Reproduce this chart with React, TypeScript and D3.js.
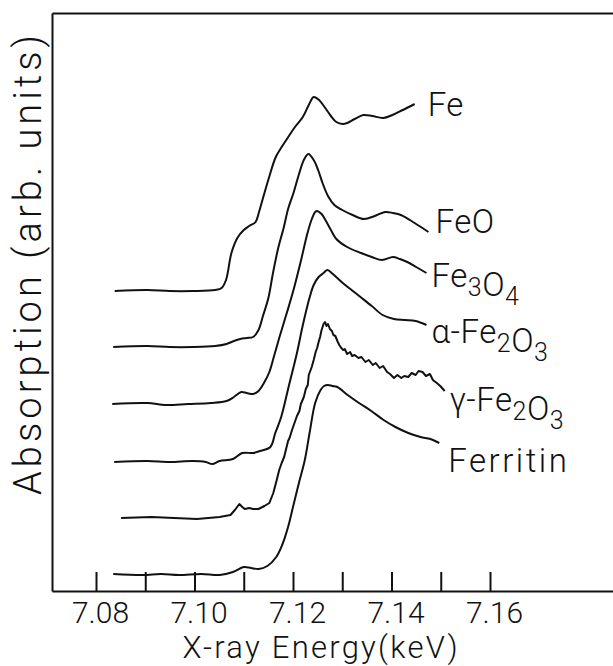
import React, { useEffect, useRef } from "react";
import * as d3 from "d3";

// [energy keV, absorption arb. units]; curves are stacked with offsets
const fe: [number, number][] = [
  [7.0838, 3.0], [7.0904, 3.01], [7.095, 3.0], [7.0996, 3.0], [7.1042, 3.01], [7.1055, 3.03],
  [7.1064, 3.11], [7.1075, 3.38], [7.1087, 3.53], [7.11, 3.61], [7.1111, 3.65], [7.1124, 3.69],
  [7.1131, 3.79], [7.1138, 3.91], [7.1151, 4.13], [7.1165, 4.34], [7.1177, 4.44], [7.1189, 4.53],
  [7.1204, 4.64], [7.122, 4.74], [7.1233, 4.87], [7.1242, 4.94], [7.1253, 4.91], [7.1264, 4.84],
  [7.1277, 4.75], [7.1288, 4.69], [7.1301, 4.67], [7.131, 4.68], [7.1325, 4.72], [7.1343, 4.76],
  [7.1361, 4.75], [7.1383, 4.73], [7.1402, 4.76], [7.1423, 4.81], [7.1447, 4.87],
];

const feO: [number, number][] = [
  [7.0835, 2.44], [7.0904, 2.45], [7.095, 2.44], [7.0996, 2.44], [7.1042, 2.45], [7.1065, 2.47],
  [7.108, 2.5], [7.1093, 2.52], [7.1106, 2.53], [7.1119, 2.54], [7.113, 2.61], [7.1139, 2.75],
  [7.115, 2.93], [7.1159, 3.17], [7.117, 3.43], [7.1181, 3.63], [7.119, 3.82], [7.1201, 3.98],
  [7.1211, 4.15], [7.1222, 4.31], [7.1231, 4.37], [7.1242, 4.31], [7.1251, 4.21], [7.126, 4.08],
  [7.1271, 3.95], [7.1284, 3.86], [7.13, 3.81], [7.1321, 3.76], [7.1344, 3.72], [7.1366, 3.75],
  [7.1387, 3.79], [7.1403, 3.78], [7.1419, 3.76], [7.1447, 3.68], [7.1475, 3.59],
];

const fe3O4: [number, number][] = [
  [7.0833, 1.87], [7.0904, 1.88], [7.0941, 1.86], [7.0987, 1.87], [7.1033, 1.88], [7.1065, 1.9],
  [7.108, 1.94], [7.1095, 1.99], [7.1106, 1.98], [7.1119, 1.97], [7.113, 2.0], [7.1141, 2.08],
  [7.1152, 2.19], [7.1161, 2.34], [7.1172, 2.53], [7.1188, 2.79], [7.1201, 3.01], [7.1215, 3.28],
  [7.123, 3.59], [7.1239, 3.73], [7.1245, 3.79], [7.1249, 3.8], [7.1258, 3.77], [7.1267, 3.7],
  [7.1277, 3.61], [7.1288, 3.52], [7.131, 3.44], [7.1338, 3.38], [7.136, 3.34], [7.1381, 3.31],
  [7.1403, 3.34], [7.1417, 3.32], [7.1432, 3.29], [7.145, 3.24], [7.1471, 3.18],
];

const alphaFe2O3: [number, number][] = [
  [7.0837, 1.29], [7.0904, 1.3], [7.095, 1.29], [7.0996, 1.3], [7.1023, 1.29], [7.1036, 1.27],
  [7.1051, 1.3], [7.1078, 1.32], [7.1097, 1.38], [7.1119, 1.38], [7.1133, 1.4], [7.1154, 1.44],
  [7.1164, 1.58], [7.1176, 1.74], [7.1192, 2.06], [7.1208, 2.38], [7.122, 2.66], [7.1234, 2.94],
  [7.1242, 3.06], [7.1252, 3.14], [7.1262, 3.18], [7.127, 3.21], [7.1281, 3.17], [7.1301, 3.08],
  [7.1319, 3.01], [7.1337, 2.94], [7.136, 2.85], [7.1382, 2.76], [7.1405, 2.72], [7.1427, 2.71],
  [7.1449, 2.7], [7.1471, 2.66],
];

const gammaFe2O3: [number, number][] = [
  [7.0851, 0.73], [7.0913, 0.74], [7.0959, 0.73], [7.1005, 0.72], [7.1051, 0.74], [7.1073, 0.76],
  [7.1082, 0.81], [7.1091, 0.87], [7.1097, 0.84], [7.1102, 0.82], [7.1111, 0.83], [7.1119, 0.82],
  [7.113, 0.82], [7.1142, 0.85], [7.1152, 0.88], [7.116, 0.98], [7.1167, 1.11], [7.1172, 1.21],
  [7.1177, 1.28], [7.1182, 1.34], [7.1187, 1.44], [7.119, 1.5], [7.1193, 1.53], [7.1198, 1.61],
  [7.1203, 1.68], [7.1208, 1.75], [7.1213, 1.8], [7.1216, 1.87], [7.1222, 1.94], [7.1226, 2.02],
  [7.123, 2.06], [7.1232, 2.16], [7.1238, 2.24], [7.1242, 2.31], [7.1246, 2.39], [7.1249, 2.43],
  [7.1252, 2.49], [7.1255, 2.54], [7.1258, 2.61], [7.126, 2.64], [7.1262, 2.67], [7.1265, 2.69],
  [7.1268, 2.65], [7.1271, 2.67], [7.1275, 2.62], [7.1279, 2.6], [7.1282, 2.56], [7.1286, 2.55],
  [7.1291, 2.49], [7.1294, 2.46], [7.1298, 2.43], [7.1302, 2.41], [7.1305, 2.42], [7.131, 2.37],
  [7.1316, 2.39], [7.132, 2.35], [7.1325, 2.36], [7.1333, 2.33], [7.1339, 2.34], [7.1347, 2.29],
  [7.1354, 2.31], [7.1362, 2.26], [7.1368, 2.28], [7.1376, 2.23], [7.1383, 2.25], [7.1391, 2.19],
  [7.1397, 2.17], [7.1405, 2.13], [7.1412, 2.16], [7.142, 2.13], [7.1426, 2.15], [7.1434, 2.14],
  [7.1441, 2.18], [7.1449, 2.16], [7.1455, 2.2], [7.1463, 2.19], [7.147, 2.15], [7.1478, 2.17],
  [7.1484, 2.11], [7.1492, 2.08], [7.1499, 2.05], [7.1508, 2.0],
];

const ferritin: [number, number][] = [
  [7.0835, 0.17], [7.0895, 0.16], [7.0932, 0.17], [7.0968, 0.16], [7.1014, 0.17], [7.1051, 0.16],
  [7.1078, 0.19], [7.11, 0.24], [7.1115, 0.23], [7.113, 0.22], [7.1148, 0.25], [7.1166, 0.34],
  [7.1178, 0.46], [7.119, 0.64], [7.12, 0.84], [7.1212, 1.08], [7.1224, 1.31], [7.1234, 1.59],
  [7.1245, 1.88], [7.1256, 2.01], [7.1263, 2.05], [7.1271, 2.06], [7.128, 2.05], [7.129, 2.04],
  [7.1311, 1.96], [7.1334, 1.88], [7.1359, 1.8], [7.1384, 1.71], [7.1408, 1.64], [7.1434, 1.58],
  [7.1459, 1.54], [7.1479, 1.52], [7.1497, 1.48],
];

const seriesNames = ["Fe", "FeO", "Fe3O4", "α-Fe2O3", "γ-Fe2O3", "Ferritin"];
const tickValues = [7.08, 7.09, 7.1, 7.11, 7.12, 7.13, 7.14, 7.15, 7.16];
const tickLabels = ["7.08", "", "7.10", "", "7.12", "", "7.14", "", "7.16"];
const xTitle = "X-ray Energy(keV)";
const yTitle = "Absorption (arb. units)";

const W = 613;
const H = 666;
const FONT = "Roboto, 'Liberation Sans', sans-serif";
const INK = "#111";

// where each label sits relative to the end of its curve
const labelOffsets = [
  [13, 12], [7, 1], [5, 14], [5, 18], [5, 20], [9, 29],
];

export default function App() {
  const ref = useRef<SVGSVGElement>(null);

  useEffect(() => {
    const svg = d3.select(ref.current);
    svg.selectAll("*").remove();

    const x = d3.scaleLinear().domain([7.071066, 7.184975]).range([52, 613]);
    const y = d3.scaleLinear().domain([0, 5.78]).range([591, 13]);

    svg.append("rect").attr("width", W).attr("height", H).attr("fill", "#fff");

    // frame: bottom axis with inward ticks, left and top plain lines
    const gx = svg.append("g")
      .attr("transform", "translate(0,591)")
      .call(
        d3.axisBottom(x)
          .tickValues(tickValues)
          .tickSizeInner(-19)
          .tickSizeOuter(0)
          .tickPadding(11)
          .tickFormat((d, i) => tickLabels[i])
      );
    gx.selectAll("path, line").attr("stroke", INK).attr("stroke-width", 2);
    gx.selectAll("text")
      .attr("dx", 4)
      .attr("fill", INK)
      .style("font-family", FONT)
      .style("font-weight", 300)
      .style("font-size", "30px");

    const gy = svg.append("g")
      .attr("transform", "translate(52,0)")
      .call(d3.axisLeft(y).tickValues([]).tickSizeOuter(0));
    gy.selectAll("path").attr("stroke", INK).attr("stroke-width", 2);

    const gt = svg.append("g")
      .attr("transform", "translate(0,13)")
      .call(d3.axisTop(x).tickValues([]).tickSizeOuter(0));
    gt.selectAll("path").attr("stroke", INK).attr("stroke-width", 2);

    // titles
    svg.append("text")
      .attr("x", 320)
      .attr("y", 658)
      .attr("text-anchor", "middle")
      .attr("textLength", 275)
      .attr("lengthAdjust", "spacing")
      .attr("fill", INK)
      .style("font-family", FONT)
      .style("font-weight", 300)
      .style("font-size", "31px")
      .text(xTitle);

    svg.append("text")
      .attr("transform", "translate(41,265) rotate(-90)")
      .attr("text-anchor", "middle")
      .attr("textLength", 460)
      .attr("lengthAdjust", "spacing")
      .attr("fill", INK)
      .style("font-family", FONT)
      .style("font-weight", 300)
      .style("font-size", "38px")
      .text(yTitle);

    // spectra
    const series = [fe, feO, fe3O4, alphaFe2O3, gammaFe2O3, ferritin];
    const smooth = d3.line<[number, number]>()
      .x((d) => x(d[0]))
      .y((d) => y(d[1]))
      .curve(d3.curveCatmullRom.alpha(0.5));
    const jagged = d3.line<[number, number]>()
      .x((d) => x(d[0]))
      .y((d) => y(d[1]));

    svg.append("g")
      .selectAll("path")
      .data(series)
      .enter()
      .append("path")
      .attr("d", (d, i) => (i === 4 ? jagged(d) : smooth(d)))
      .attr("fill", "none")
      .attr("stroke", INK)
      .attr("stroke-width", 2)
      .attr("stroke-linejoin", "round");

    // labels at the right end of each curve, digits as subscripts
    series.forEach((s, i) => {
      const last = s[s.length - 1];
      const t = svg.append("text")
        .attr("x", x(last[0]) + labelOffsets[i][0])
        .attr("y", y(last[1]) + labelOffsets[i][1])
        .attr("fill", INK)
        .style("font-family", FONT)
        .style("font-weight", 300)
        .style("font-size", "33px")
        .style("letter-spacing", i === 5 ? "2.5px" : "0.5px");
      const parts = seriesNames[i].match(/\d|\D+/g) || [];
      parts.forEach((p) => {
        if (/\d/.test(p)) {
          t.append("tspan").attr("dy", 9).style("font-size", "25px").text(p);
          t.append("tspan").attr("dy", -9).text("");
        } else {
          t.append("tspan").text(p);
        }
      });
    });
  }, []);

  return (
    <svg
      ref={ref}
      width={W}
      height={H}
      style={{ position: "absolute", left: 0, top: 0, display: "block" }}
    />
  );
}
